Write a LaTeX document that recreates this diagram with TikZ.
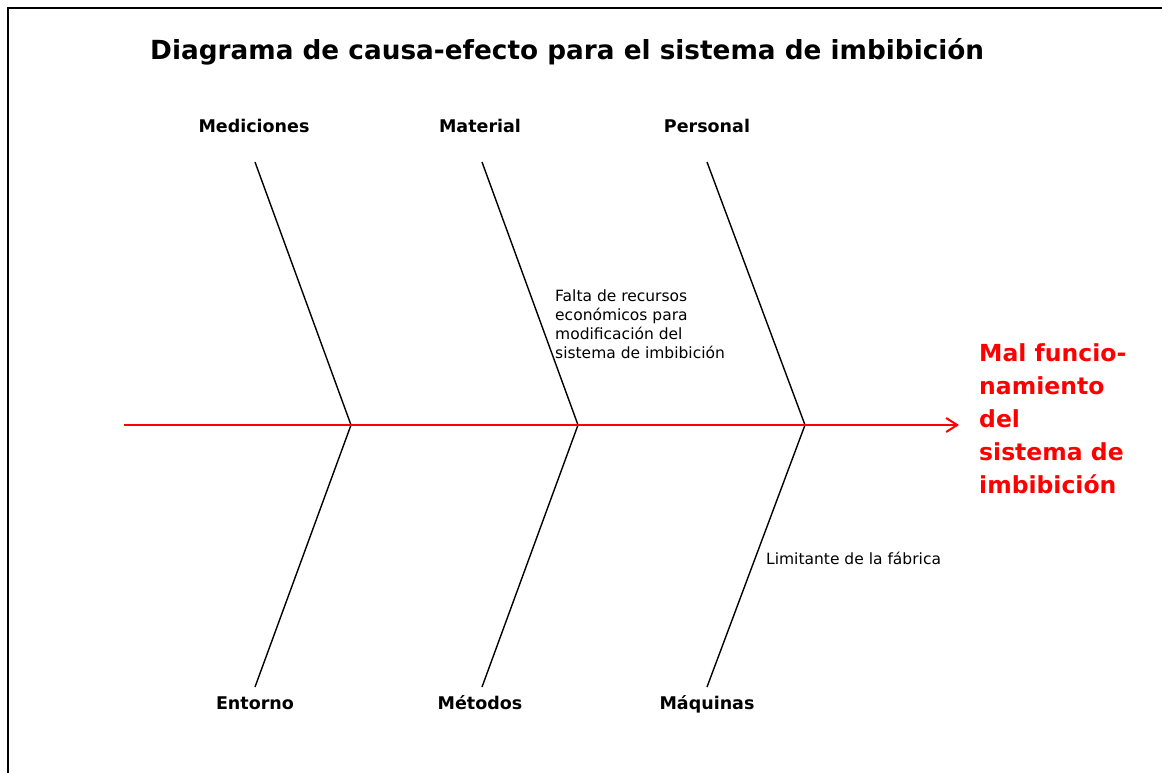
\documentclass[tikz,border=0pt]{standalone}
\usepackage{fontspec}
\setmainfont{DejaVu Sans}
\usetikzlibrary{arrows.meta}
\definecolor{effred}{RGB}{255,0,0}
\tikzset{
  bone/.style={draw=black, line width=1.4pt},
  spine/.style={draw=effred, line width=2pt, -{Straight Barb[length=11pt,width=14pt,line width=2pt]}},
  cat/.style={inner sep=0pt, anchor=base, font=\bfseries\fontsize{17.5}{21}\selectfont},
  note/.style={inner sep=0pt, anchor=north west, align=left, font=\fontsize{15.5}{19}\selectfont},
  effect/.style={inner sep=0pt, anchor=north west, align=left, text=effred, font=\bfseries\fontsize{23.5}{33}\selectfont},
  frame/.style={draw=black, line width=2pt}
}
\begin{document}
\begin{tikzpicture}[x=1pt,y=-1pt]
\useasboundingbox (0,0) rectangle (1162,773);
% frame
\coordinate (fa) at (8,773);
\coordinate (fb) at (8,8);
\coordinate (fc) at (1162,8);
\draw[frame] (fa) -- (fb) -- (fc);
% title
\node[inner sep=0pt, anchor=base west, font=\bfseries\fontsize{26.3}{30}\selectfont] (title) at (150,60) {Diagrama de causa-efecto para el sistema de imbibición};
% spine
\coordinate (s0) at (124,425);
\coordinate (s1) at (959,425);
% joints
\coordinate (j1) at (351,425);
\coordinate (j2) at (578,425);
\coordinate (j3) at (805,425);
% bone ends
\coordinate (t1) at (255,162);
\coordinate (t2) at (482,162);
\coordinate (t3) at (707,162);
\coordinate (b1) at (255,687);
\coordinate (b2) at (482,687);
\coordinate (b3) at (707,687);
\draw[bone] (t1) -- (j1) -- (b1);
\draw[bone] (t2) -- (j2) -- (b2);
\draw[bone] (t3) -- (j3) -- (b3);
\draw[spine] (s0) -- (s1);
% category labels
\node[cat] (med) at (254,132) {Mediciones};
\node[cat] (mat) at (480,132) {Material};
\node[cat] (per) at (707,132) {Personal};
\node[cat] (ent) at (255,709) {Entorno};
\node[cat] (met) at (480,709) {Métodos};
\node[cat] (maq) at (707,709) {Máquinas};
% notes
\node[note] (n1) at (555,290) {Falta de recursos\\económicos para\\modificación del\\sistema de imbibición};
\node[note, anchor=base west] (n2) at (766,564) {Limitante de la fábrica};
% effect
\node[effect] (eff) at (979,343) {Mal funcio-\\namiento\\del\\sistema de\\imbibición};
\end{tikzpicture}
\end{document}
